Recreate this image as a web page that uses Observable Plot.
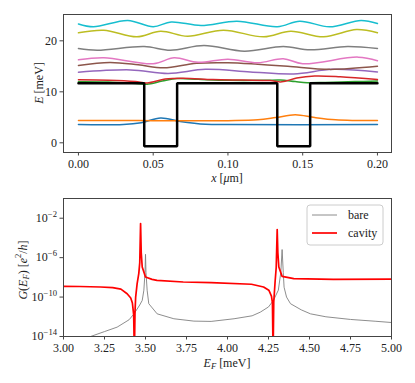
<!DOCTYPE html>
<html><head><meta charset="utf-8">
<script src="https://cdn.jsdelivr.net/npm/d3@7"></script>
<script src="https://cdn.jsdelivr.net/npm/@observablehq/plot@0.6"></script>
<style>
body{margin:0;background:#fff;}
#chart{width:415px;height:383px;}
#chart svg{display:block;}
#chart svg, #chart svg text, #chart svg tspan { font-family: "Liberation Serif", "DejaVu Serif", serif !important; }
</style></head><body><div id="chart"></div>
<script>
const FONT = "Liberation Serif, DejaVu Serif, serif";

// ---- top panel: bands, [x (µm), E (meV)] ----
const bandBlue   = [[0,3.57],[0.03,3.6],[0.042,3.95],[0.055,4.85],[0.068,4.2],[0.085,3.65],[0.1,3.58],[0.2,3.57]];
const bandOrange = [[0,4.37],[0.04,4.37],[0.06,4.33],[0.1,4.35],[0.12,4.5],[0.132,4.95],[0.145,5.5],[0.158,4.95],[0.172,4.5],[0.185,4.38],[0.2,4.37]];
const bandGreen  = [[0,11.95],[0.02,11.9],[0.04,11.6],[0.046,11.5],[0.056,12.1],[0.066,12.6],[0.08,12.45],[0.1,12.25],[0.125,12.25],[0.135,12.3],[0.145,12.0],[0.153,11.8],[0.165,11.85],[0.185,12.0],[0.2,12.1]];
const bandRed    = [[0,12.35],[0.02,12.25],[0.038,12.0],[0.046,11.75],[0.058,12.5],[0.07,12.65],[0.09,12.4],[0.11,12.3],[0.128,12.2],[0.136,11.95],[0.146,12.7],[0.158,13.1],[0.175,12.95],[0.2,12.4]];
const bandPurple = [[0,13.84],[0.035,14.3],[0.06,13.6],[0.085,14.4],[0.115,13.9],[0.144,13.5],[0.17,14.4],[0.2,13.9]];
const bandBrown  = [[0,15.16],[0.021,15.75],[0.04,15.3],[0.057,14.7],[0.079,15.6],[0.1,15.7],[0.12,15.4],[0.14,15.0],[0.168,14.4],[0.2,15.0]];
const bandPink   = [[0,16.27],[0.017,16.67],[0.05,15.5],[0.064,16.67],[0.08,15.8],[0.1,16.4],[0.12,15.7],[0.137,16.5],[0.15,15.5],[0.187,16.8],[0.2,16.1]];
const bandGray   = [[0,18.49],[0.0125,18.16],[0.044,18.88],[0.0615,18.16],[0.084,19.08],[0.111,17.96],[0.137,18.88],[0.155,18.24],[0.18,18.88],[0.2,18.49]];
const bandOlive  = [[0,21.57],[0.017,22.08],[0.039,20.78],[0.055,21.88],[0.073,20.9],[0.097,22.08],[0.124,20.78],[0.142,21.88],[0.164,20.78],[0.186,22.2],[0.2,21.57]];
const bandCyan   = [[0,23.3],[0.01,22.75],[0.033,24.0],[0.05,22.75],[0.062,23.7],[0.082,23.0],[0.106,23.85],[0.133,22.75],[0.148,23.85],[0.168,22.75],[0.189,24.0],[0.2,23.4]];
const bandColors = ["#1f77b4","#ff7f0e","#2ca02c","#d62728","#9467bd","#8c564b","#e377c2","#7f7f7f","#bcbd22","#17becf"];

// potential profile
const potentialX = [0, 0.044, 0.044, 0.066, 0.066, 0.133, 0.133, 0.155, 0.155, 0.2];
const potentialE = [11.7, 11.7, -0.67, -0.67, 11.7, 11.7, -0.67, -0.67, 11.7, 11.7];

const topXTicks = [0, 0.05, 0.10, 0.15, 0.20];
const topYTicks = [0, 10, 20];

// ---- bottom panel: conductance, E_F (meV) and log10 G (e^2/h) ----
const bareEF   = [3.0,3.1,3.165,3.25,3.327,3.40,3.43,3.465,3.48,3.49,3.497,3.5,3.503,3.51,3.52,3.571,3.673,3.795,3.9,4.04,4.15,4.2,4.25,4.28,4.31,4.325,4.333,4.34,4.345,4.36,4.384,4.45,4.506,4.6,4.75,4.9,5.0];
const bareLogG = [-15.5,-14.6,-14.0,-13.5,-13.05,-12.3,-11.7,-10.8,-10.34,-9.3,-7.5,-5.66,-7.5,-9.3,-10.67,-11.7,-12.2,-12.44,-12.47,-12.2,-11.9,-11.53,-11.0,-10.34,-9.3,-7.5,-5.18,-7.5,-9.0,-10.0,-10.67,-11.3,-11.7,-12.0,-12.27,-12.45,-12.58];
const cavityEF   = [3.0,3.1,3.226,3.3,3.35,3.388,3.41,3.42,3.428,3.432,3.436,3.44,3.449,3.459,3.465,3.47,3.474,3.48,3.5,3.54,3.57,3.73,3.9,4.146,4.22,4.252,4.268,4.274,4.278,4.282,4.29,4.297,4.303,4.307,4.313,4.333,4.404,4.646,5.0];
const cavityLogG = [-8.91,-8.93,-8.98,-9.05,-9.2,-9.66,-10.1,-10.6,-11.8,-16,-11.5,-10.0,-8.64,-7.62,-6.5,-2.54,-5.5,-6.95,-7.97,-8.2,-8.3,-8.47,-8.54,-8.7,-8.98,-9.3,-9.9,-10.6,-16,-10.5,-8.5,-7.0,-3.15,-5.5,-6.95,-7.9,-8.13,-8.2,-8.17];

const botXTicks = [3.0, 3.25, 3.5, 3.75, 4.0, 4.25, 4.5, 4.75, 5.0];
const botYTicks = [1e-14, 1e-10, 1e-6, 1e-2];
const legendLabels = ["bare", "cavity"];
const legendColors = ["#808080", "#ff0000"];

const bands = [bandBlue, bandOrange, bandGreen, bandRed, bandPurple, bandBrown, bandPink, bandGray, bandOlive, bandCyan];
const potential = potentialX.map((x, i) => ({x, e: potentialE[i]}));
const bare = bareEF.map((ef, i) => ({ef, g: Math.pow(10, bareLogG[i])}));
const cavity = cavityEF.map((ef, i) => ({ef, g: Math.pow(10, cavityLogG[i])}));

const chartStyle = {fontSize: "12px", color: "#222", background: "white", overflow: "visible"};
const axisCol = "#444";

const topChart = Plot.plot({
  width: 415, height: 190,
  marginTop: 14, marginRight: 24, marginBottom: 38, marginLeft: 63,
  style: chartStyle,
  x: {domain: [-0.01, 0.2094], label: null},
  y: {domain: [-1.9, 25.16], label: null},
  marks: [
    ...bands.map((b, i) => Plot.line(b, {x: d => d[0], y: d => d[1], stroke: bandColors[i], strokeWidth: 1.5, curve: "catmull-rom"})),
    Plot.line(potential, {x: "x", y: "e", stroke: "black", strokeWidth: 2.5, strokeLinejoin: "miter"}),
    Plot.axisX({ticks: topXTicks, tickFormat: d => d.toFixed(2), tickSize: 3.5, tickPadding: 3, label: null, stroke: axisCol}),
    Plot.axisY({ticks: topYTicks, tickFormat: d => String(d), tickSize: 3.5, tickPadding: 3, label: null, stroke: axisCol}),
    Plot.frame({stroke: axisCol, strokeWidth: 1})
  ]
});

const bottomChart = Plot.plot({
  width: 415, height: 193,
  marginTop: 8, marginRight: 24, marginBottom: 47, marginLeft: 63,
  style: chartStyle,
  x: {domain: [3, 5], label: null},
  y: {type: "log", domain: [1e-14, 1], label: null},
  marks: [
    Plot.line(bare, {x: "ef", y: "g", stroke: legendColors[0], strokeWidth: 0.9, clip: true}),
    Plot.line(cavity, {x: "ef", y: "g", stroke: legendColors[1], strokeWidth: 1.7, clip: true}),
    Plot.axisX({ticks: botXTicks, tickFormat: d => d.toFixed(2), tickSize: 3.5, tickPadding: 3, label: null, stroke: axisCol}),
    Plot.axisY({ticks: botYTicks, tickFormat: d => "10^" + Math.round(Math.log10(d)), tickSize: 3.5, tickPadding: 3, label: null, stroke: axisCol}),
    Plot.frame({stroke: axisCol, strokeWidth: 1})
  ]
});

const chart = document.getElementById("chart");
chart.appendChild(topChart);
chart.appendChild(bottomChart);
[topChart, bottomChart].forEach(s => { s.setAttribute("font-family", FONT); s.setAttribute("font-size", "12"); });

// helper to write rich text
function rich(sel, parts) {
  parts.forEach(p => {
    const t = sel.append("tspan").text(p.t);
    if (p.i) t.attr("font-style", "italic");
    if (p.s) t.attr("font-size", "8.6");
    if (p.dy) t.attr("dy", p.dy);
  });
}

// exponents on log ticks
d3.select(bottomChart).selectAll('g[aria-label="y-axis tick label"] text').each(function() {
  const s = d3.select(this);
  const txt = s.text();
  const parts = txt.split("^");
  if (parts.length < 2) return;
  s.text(null);
  rich(s, [{t: "10"}, {t: parts[1].replace("-", "\u2212"), s: true, dy: "-5"}]);
});

const T = d3.select(topChart);
rich(T.append("text").attr("transform", "translate(39,83) rotate(-90)").attr("text-anchor", "middle").attr("dominant-baseline", "central").attr("fill", "#222"),
  [{t: "E", i: true}, {t: " [meV]"}]);
rich(T.append("text").attr("x", 227).attr("y", 178).attr("text-anchor", "middle").attr("dominant-baseline", "central").attr("fill", "#222"),
  [{t: "x", i: true}, {t: " ["}, {t: "\u03bc", i: true}, {t: "m]"}]);

const B = d3.select(bottomChart);
rich(B.append("text").attr("transform", "translate(23,80) rotate(-90)").attr("text-anchor", "middle").attr("dominant-baseline", "central").attr("fill", "#222"),
  [{t: "G", i: true}, {t: "("}, {t: "E", i: true}, {t: "F", i: true, s: true, dy: "3"}, {t: ") [", dy: "-3"}, {t: "e", i: true}, {t: "2", s: true, dy: "-5"}, {t: "/", dy: "5"}, {t: "h", i: true}, {t: "]"}]);
rich(B.append("text").attr("x", 227).attr("y", 173).attr("text-anchor", "middle").attr("dominant-baseline", "central").attr("fill", "#222"),
  [{t: "E", i: true}, {t: "F", i: true, s: true, dy: "3"}, {t: " [meV]", dy: "-3"}]);

// legend
const L = B.append("g").attr("text-anchor", "start");
L.append("rect").attr("x", 307).attr("y", 15).attr("width", 76).attr("height", 40).attr("rx", 3)
  .attr("fill", "white").attr("fill-opacity", 0.85).attr("stroke", "#ccc");
legendLabels.forEach((lab, i) => {
  const y = 25 + i * 18;
  L.append("line").attr("x1", 312).attr("x2", 337).attr("y1", y).attr("y2", y)
    .attr("stroke", legendColors[i]).attr("stroke-width", i ? 1.7 : 0.9);
  L.append("text").attr("x", 348).attr("y", y).attr("text-anchor", "start").attr("dominant-baseline", "central").attr("fill", "#222").text(lab);
});
</script></body></html>
